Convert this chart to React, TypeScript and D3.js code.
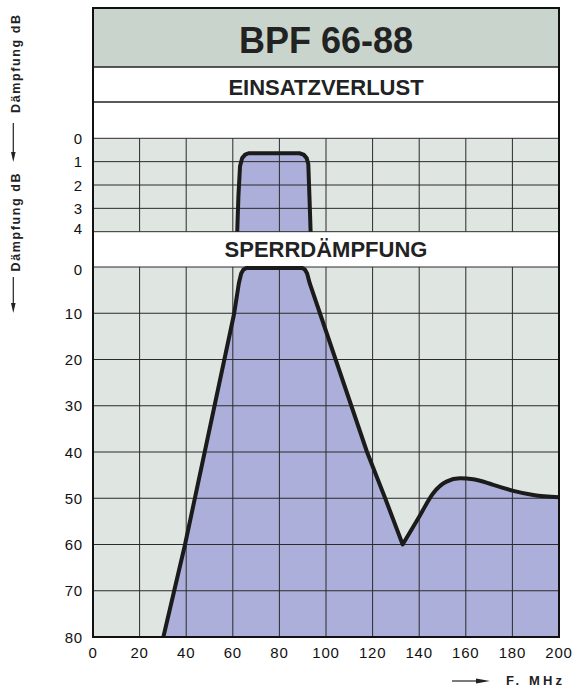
import React, { useEffect, useRef } from "react";
import * as d3 from "d3";

// frequency axis
const freqTicks = [0, 20, 40, 60, 80, 100, 120, 140, 160, 180, 200];
// insertion loss panel (dB)
const insertionTicks = [0, 1, 2, 3, 4];
// stop band attenuation panel (dB)
const rejectionTicks = [0, 10, 20, 30, 40, 50, 60, 70, 80];

// insertion loss curve
const insertionFreq = [61.9, 62.4, 63.1, 64.0, 65.3, 66.8, 88.6, 90.4, 91.7, 92.4, 92.9, 93.4];
const insertionDb = [4, 2.5, 1.2, 0.85, 0.7, 0.64, 0.64, 0.7, 0.85, 1.1, 2.5, 4];

// attenuation curve: straight part up to the notch
const rejectionFreq = [30.2, 39.5, 60.6, 62.6, 63.6, 64.5, 65.8, 89.8, 91.0, 91.9, 93.0, 97.4, 117.6, 125.4, 132.9];
const rejectionDb = [80, 60, 10, 3.5, 1.4, 0.6, 0.2, 0.2, 0.6, 1.4, 3.5, 10, 40, 50, 60];

// attenuation curve: smooth recovery after the notch
const recoveryFreq = [132.9, 140, 146, 151.7, 157.5, 163.2, 171.8, 180.4, 189, 200];
const recoveryDb = [60, 54, 48.9, 46.4, 45.7, 45.9, 47.1, 48.4, 49.3, 49.8];

const FONT = "'Liberation Sans', Arial, Helvetica, sans-serif";

const FilterChart = () => {
  const svgRef = useRef<SVGSVGElement>(null);

  useEffect(() => {
    const svg = d3.select(svgRef.current);
    svg.selectAll("*").remove();

    const left = 93;
    const right = 559;
    const top = 8;
    const midX = (left + right) / 2;

    const x = d3.scaleLinear().domain([0, 200]).range([left, right]);
    const yTop = d3.scaleLinear().domain([0, 4]).range([138.3, 231.7]);
    const yBot = d3.scaleLinear().domain([0, 80]).range([267, 637]);

    const gridBg = "#dfe5e1";
    const fillCol = "#acafd9";
    const lineCol = "#1b1b1b";

    // header bands
    svg.append("rect").attr("x", left).attr("y", top).attr("width", right - left).attr("height", 59).attr("fill", "#c9d5cc");
    svg.append("rect").attr("x", left).attr("y", 67).attr("width", right - left).attr("height", yTop(0) - 67).attr("fill", "#fff");
    svg.append("rect").attr("x", left).attr("y", yTop(4)).attr("width", right - left).attr("height", yBot(0) - yTop(4)).attr("fill", "#fff");

    // panel backgrounds
    svg.append("rect").attr("x", left).attr("y", yTop(0)).attr("width", right - left).attr("height", yTop(4) - yTop(0)).attr("fill", gridBg);
    svg.append("rect").attr("x", left).attr("y", yBot(0)).attr("width", right - left).attr("height", yBot(80) - yBot(0)).attr("fill", gridBg);

    // fills
    const topPts = insertionFreq.map((f, i) => [f, insertionDb[i]] as [number, number]);
    const lineTop = d3.line<[number, number]>().x((d) => x(d[0])).y((d) => yTop(d[1]));
    svg.append("path").attr("d", lineTop(topPts) + "Z").attr("fill", fillCol);

    const partA = rejectionFreq.map((f, i) => [f, rejectionDb[i]] as [number, number]);
    const partB = recoveryFreq.map((f, i) => [f, recoveryDb[i]] as [number, number]);
    const lineA = d3.line<[number, number]>().x((d) => x(d[0])).y((d) => yBot(d[1]));
    const lineB = d3
      .line<[number, number]>()
      .x((d) => x(d[0]))
      .y((d) => yBot(d[1]))
      .curve(d3.curveMonotoneX);
    const curvePath = lineA(partA) + (lineB(partB) || "").replace(/^M/, "L");
    svg
      .append("path")
      .attr("d", curvePath + `L${x(200)},${yBot(80)}Z`)
      .attr("fill", fillCol);

    // grid
    const grid = svg.append("g").attr("stroke", "#2b2b2b").attr("stroke-width", 1);
    freqTicks.slice(1, -1).forEach((f) => {
      grid.append("line").attr("x1", x(f)).attr("x2", x(f)).attr("y1", yTop(0)).attr("y2", yTop(4));
      grid.append("line").attr("x1", x(f)).attr("x2", x(f)).attr("y1", yBot(0)).attr("y2", yBot(80));
    });
    insertionTicks.forEach((v) => {
      grid.append("line").attr("x1", left).attr("x2", right).attr("y1", yTop(v)).attr("y2", yTop(v));
    });
    rejectionTicks.forEach((v) => {
      grid.append("line").attr("x1", left).attr("x2", right).attr("y1", yBot(v)).attr("y2", yBot(v));
    });

    // band separators
    [67, 102].forEach((yy) => {
      svg.append("line").attr("x1", left).attr("x2", right).attr("y1", yy).attr("y2", yy).attr("stroke", "#222").attr("stroke-width", 1.6);
    });

    // curves
    svg
      .append("path")
      .attr("d", lineTop(topPts))
      .attr("fill", "none")
      .attr("stroke", lineCol)
      .attr("stroke-width", 4)
      .attr("stroke-linejoin", "round");
    svg
      .append("path")
      .attr("d", curvePath)
      .attr("fill", "none")
      .attr("stroke", lineCol)
      .attr("stroke-width", 4)
      .attr("stroke-linejoin", "round");

    // outer frame
    svg
      .append("rect")
      .attr("x", left)
      .attr("y", top)
      .attr("width", right - left)
      .attr("height", yBot(80) - top)
      .attr("fill", "none")
      .attr("stroke", "#111")
      .attr("stroke-width", 2);

    // titles
    const title = (txt: string, yy: number, size: number) =>
      svg
        .append("text")
        .attr("x", midX)
        .attr("y", yy)
        .attr("text-anchor", "middle")
        .attr("font-family", FONT)
        .attr("font-weight", "bold")
        .attr("font-size", size)
        .attr("fill", "#222")
        .text(txt);
    title("BPF 66-88", 53, 36);
    title("EINSATZVERLUST", 95, 22);
    title("SPERRDÄMPFUNG", 257, 22);

    // y tick labels
    const tickText = (g: any) =>
      g.attr("font-family", FONT).attr("font-size", 15).attr("fill", "#111").attr("letter-spacing", 0.8);
    insertionTicks.forEach((v) => {
      svg
        .append("text")
        .attr("x", 83)
        .attr("y", yTop(v) + 5.5 - (v === 4 ? 3 : 0))
        .attr("text-anchor", "end")
        .call(tickText)
        .text(v);
    });
    rejectionTicks.forEach((v) => {
      svg
        .append("text")
        .attr("x", 83)
        .attr("y", yBot(v) + 5.5 + (v === 0 ? 2 : 0))
        .attr("text-anchor", "end")
        .call(tickText)
        .text(v);
    });
    // x tick labels
    freqTicks.forEach((f) => {
      svg
        .append("text")
        .attr("x", x(f))
        .attr("y", 658)
        .attr("text-anchor", "middle")
        .call(tickText)
        .text(f);
    });

    // left axis captions
    const caption = (cy: number) =>
      svg
        .append("text")
        .attr("transform", `translate(20,${cy}) rotate(-90)`)
        .attr("text-anchor", "middle")
        .attr("font-family", FONT)
        .attr("font-weight", "bold")
        .attr("font-size", 12.5)
        .attr("fill", "#222")
        .attr("textLength", 98)
        .attr("lengthAdjust", "spacing")
        .text("Dämpfung dB");
    caption(64);
    caption(222.5);

    const arrowDown = (y1: number, y2: number) => {
      svg.append("line").attr("x1", 13.3).attr("x2", 13.3).attr("y1", y1).attr("y2", y2 - 8).attr("stroke", "#222").attr("stroke-width", 1.2);
      svg
        .append("path")
        .attr("d", `M${13.3 - 2.3},${y2 - 10}L${13.3 + 2.3},${y2 - 10}L13.3,${y2}Z`)
        .attr("fill", "#222");
    };
    arrowDown(123, 162);
    arrowDown(277, 313);

    // frequency caption
    svg.append("line").attr("x1", 452).attr("x2", 480).attr("y1", 681).attr("y2", 681).attr("stroke", "#222").attr("stroke-width", 1.2);
    svg.append("path").attr("d", "M476,678.5L476,683.5L490,681Z").attr("fill", "#222");
    svg
      .append("text")
      .attr("x", 506)
      .attr("y", 685)
      .attr("font-family", FONT)
      .attr("font-weight", "bold")
      .attr("font-size", 13)
      .attr("fill", "#222")
      .attr("textLength", 56)
      .attr("lengthAdjust", "spacing")
      .text("F. MHz");
  }, []);

  return (
    <svg
      ref={svgRef}
      width={573}
      height={688}
      style={{ position: "absolute", left: 0, top: 0, background: "#fff" }}
    />
  );
};

export default function App() {
  return <FilterChart />;
}
